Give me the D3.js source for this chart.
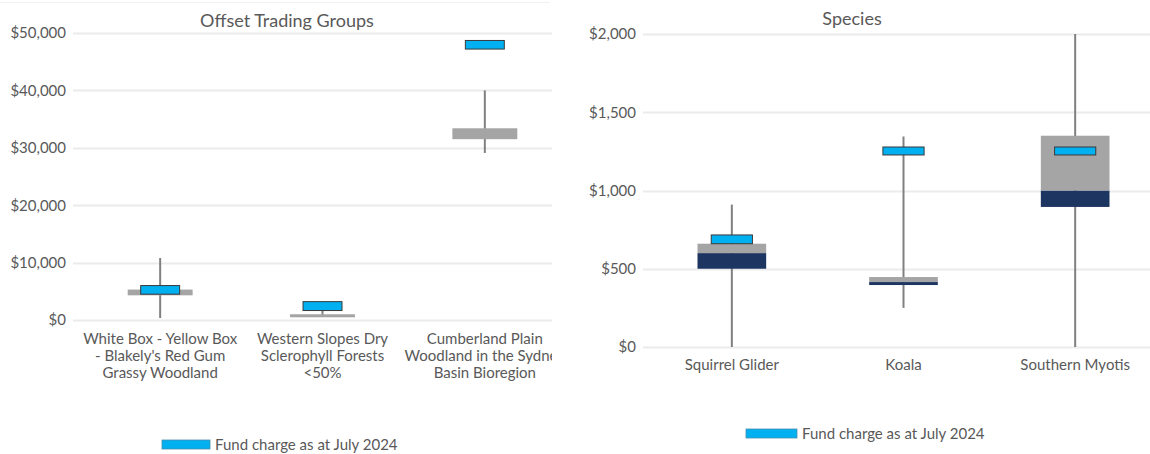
<!DOCTYPE html>
<html><head><meta charset="utf-8">
<script src="https://cdn.jsdelivr.net/npm/d3@7"></script>
<style>
body{margin:0;background:#fff;}
svg{position:absolute;top:0;font-family:Lato,"Open Sans",sans-serif;}
text{fill:#595959;}
</style></head>
<body>
<script>
// ---- Left chart: Offset Trading Groups ----
const groupCats = [
  ["White Box - Yellow Box", "- Blakely's Red Gum", "Grassy Woodland"],
  ["Western Slopes Dry", "Sclerophyll Forests", "<50%"],
  ["Cumberland Plain", "Woodland in the Sydney", "Basin Bioregion"]
];
const groupWhiskerMin = [350, 700, 29100];
const groupWhiskerMax = [10800, 1800, 40000];
const groupQ1 = [4300, 470, 31500];
const groupMedian = [4300, 470, 31500];
const groupQ3 = [5300, 1000, 33400];
const groupFundLow = [4500, 1650, 47200];
const groupFundHigh = [6000, 3200, 48700];
const groupTicks = [0, 10000, 20000, 30000, 40000, 50000];

// ---- Right chart: Species ----
const speciesCats = [["Squirrel Glider"], ["Koala"], ["Southern Myotis"]];
const speciesWhiskerMin = [0, 250, 0];
const speciesWhiskerMax = [910, 1345, 2000];
const speciesQ1 = [500, 396, 895];
const speciesMedian = [600, 415, 1000];
const speciesQ3 = [660, 447, 1350];
const speciesFundLow = [660, 1227, 1227];
const speciesFundHigh = [716, 1278, 1278];
const speciesTicks = [0, 500, 1000, 1500, 2000];

const legendLabel = "Fund charge as at July 2024";
const C = {whisker:"#808080", grey:"#a5a5a5", navy:"#1d3561", fund:"#00b0f0", fundStroke:"#3a3a3a", grid:"#ebebeb"};
const FS = "15px";

function drawChart(cfg){
  const svg = d3.select("body").append("svg")
    .attr("width", cfg.svgW).attr("height", 454)
    .style("left", cfg.svgX + "px");
  const g = svg.append("g").attr("transform", `translate(${-cfg.svgX},0)`);
  const names = cfg.cats.map((c,i)=>i);
  const x = d3.scaleBand().domain(names).range(cfg.xRange);
  const y = d3.scaleLinear().domain([cfg.ticks[0], cfg.ticks[cfg.ticks.length-1]]).range(cfg.yRange);

  if (cfg.topBorder) {
    g.append("line").attr("x1", cfg.svgX).attr("x2", cfg.svgX+cfg.svgW-2).attr("y1",2.5).attr("y2",2.5)
      .attr("stroke","#f2f2f2").attr("stroke-width",1);
  }
  // gridlines
  g.append("g").selectAll("line").data(cfg.ticks).join("line")
    .attr("x1", cfg.gridX0).attr("x2", cfg.xRange[1])
    .attr("y1", d=>Math.round(y(d))+0.5).attr("y2", d=>Math.round(y(d))+0.5)
    .attr("stroke", C.grid).attr("stroke-width", 2);
  // y axis labels via d3 axis
  const ax = g.append("g").attr("transform", `translate(${cfg.gridX0-7},0)`)
    .call(d3.axisLeft(y).tickValues(cfg.ticks).tickSize(0).tickPadding(0).tickFormat(d3.format("$,")));
  ax.select(".domain").remove();
  ax.selectAll("text").attr("fill","#595959").style("font-size",FS).style("font-family","Lato,sans-serif");

  // title
  g.append("text").attr("x", cfg.titleX).attr("y", cfg.titleY).attr("text-anchor","middle")
    .style("font-size","18px").text(cfg.title);

  const cx = i => x(i) + x.bandwidth()/2;
  const bw = x.bandwidth();
  // whiskers
  g.append("g").selectAll("line").data(names).join("line")
    .attr("x1", cx).attr("x2", cx)
    .attr("y1", i=>y(cfg.wMin[i])).attr("y2", i=>y(cfg.wMax[i]))
    .attr("stroke", C.whisker).attr("stroke-width", 2);
  // navy lower box
  g.append("g").selectAll("rect").data(names).join("rect")
    .attr("x", i=>cx(i)-bw*0.2).attr("width", bw*0.4)
    .attr("y", i=>y(cfg.med[i])).attr("height", i=>y(cfg.q1[i])-y(cfg.med[i]))
    .attr("fill", C.navy);
  // grey upper box
  g.append("g").selectAll("rect").data(names).join("rect")
    .attr("x", i=>cx(i)-bw*0.2).attr("width", bw*0.4)
    .attr("y", i=>y(cfg.q3[i])).attr("height", i=>y(cfg.med[i])-y(cfg.q3[i]))
    .attr("fill", C.grey);
  // fund charge
  g.append("g").selectAll("rect").data(names).join("rect")
    .attr("x", i=>cx(i)-bw*0.12).attr("width", bw*0.24)
    .attr("y", i=>y(cfg.fHigh[i])).attr("height", i=>y(cfg.fLow[i])-y(cfg.fHigh[i]))
    .attr("fill", C.fund).attr("stroke", C.fundStroke).attr("stroke-width", 1);

  // x labels
  const xl = g.append("g").selectAll("text").data(names).join("text")
    .attr("x", cx).attr("y", cfg.xLabelY).attr("text-anchor","middle").style("font-size",FS);
  xl.each(function(i){
    const t = d3.select(this);
    cfg.cats[i].forEach((line,k)=>{
      t.append("tspan").attr("x", cx(i)).attr("dy", k===0?0:17).text(line);
    });
  });

  // legend
  g.append("rect").attr("x", cfg.legX).attr("y", cfg.legY).attr("width", cfg.legW).attr("height", 9)
    .attr("fill", C.fund).attr("stroke", "#4a8fb0").attr("stroke-width",0.8);
  g.append("text").attr("x", cfg.legX+cfg.legW+5).attr("y", cfg.legY+10)
    .style("font-size",FS).text(legendLabel);
}

drawChart({
  svgX:0, svgW:552, cats:groupCats, ticks:groupTicks,
  xRange:[79,566], yRange:[320,33], gridX0:73,
  wMin:groupWhiskerMin, wMax:groupWhiskerMax, q1:groupQ1, med:groupMedian, q3:groupQ3,
  fLow:groupFundLow, fHigh:groupFundHigh,
  title:"Offset Trading Groups", titleX:287, titleY:27, xLabelY:344,
  legX:162, legY:440, legW:48, topBorder:true
});
drawChart({
  svgX:560, svgW:590, cats:speciesCats, ticks:speciesTicks,
  xRange:[646,1161], yRange:[347,34], gridX0:643,
  wMin:speciesWhiskerMin, wMax:speciesWhiskerMax, q1:speciesQ1, med:speciesMedian, q3:speciesQ3,
  fLow:speciesFundLow, fHigh:speciesFundHigh,
  title:"Species", titleX:852, titleY:25, xLabelY:370,
  legX:746, legY:429, legW:51, topBorder:false
});
</script>
</body></html>
